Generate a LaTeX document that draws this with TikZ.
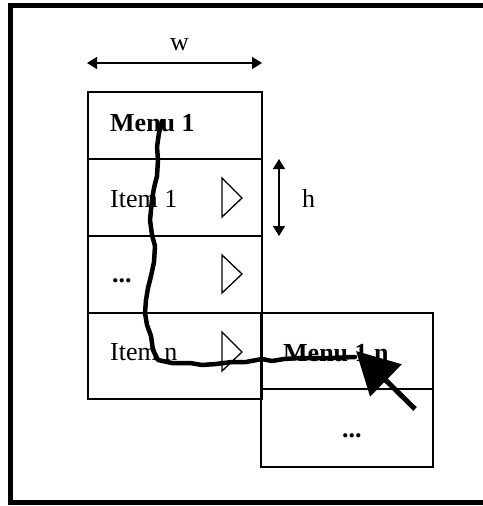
\documentclass[tikz,border=0pt]{standalone}
\usepackage{fontspec}
\setmainfont{Liberation Serif}
\usetikzlibrary{arrows.meta}
\begin{document}
\begin{tikzpicture}[x=1pt,y=-1pt,
  cell/.style={draw, line width=1.3pt, inner sep=0pt, anchor=center},
  lbl/.style={anchor=base west, inner sep=0pt, font=\fontsize{26}{30}\selectfont},
  blbl/.style={lbl, font=\fontsize{26}{30}\selectfont\bfseries},
  dim/.style={line width=1.3pt, {Triangle[length=10pt,width=12pt]}-{Triangle[length=10pt,width=12pt]}},
  tri/.style={draw, line width=1.3pt, fill=white},
  trail/.style={line width=4.5pt, line join=round, line cap=round},
  pointer/.style={line width=5pt, -{Triangle[length=42pt,width=44pt]}}]
\useasboundingbox (0,0) rectangle (482,506);
\fill[white] (0,0) rectangle (482,506);
% outer frame (right side runs off the page)
\draw[line width=5pt] (495,5.5) -- (10.5,5.5) -- (10.5,502.5) -- (495,502.5);

% width dimension
\coordinate (wl) at (87,63);
\coordinate (wr) at (262,63);
\draw[dim] (wl) -- (wr);
\node[lbl] (wlab) at (170,50) {w};

% first menu column
\node[cell, minimum width=174pt, minimum height=67pt] (m1) at (175,125.5) {};
\node[cell, minimum width=174pt, minimum height=77pt] (i1) at (175,197.5) {};
\node[cell, minimum width=174pt, minimum height=77pt] (i2) at (175,274.5) {};
\node[cell, minimum width=174pt, minimum height=86pt] (in) at (175,356) {};

% submenu column
\node[cell, minimum width=172pt, minimum height=76pt] (s1) at (347,351) {};
\node[cell, minimum width=172pt, minimum height=78pt] (s2) at (347,428) {};

% height dimension
\coordinate (ht) at (279,159);
\coordinate (hb) at (279,236);
\draw[dim] (ht) -- (hb);
\node[lbl] (hlab) at (302,207) {h};

% labels
\node[blbl] (t1) at (110,131) {Menu 1};
\node[lbl]  (t2) at (110,207) {Item 1};
\node[blbl] (t3) at (112,282) {...};
\node[lbl]  (t4) at (110,360) {Item n};
\node[blbl] (t5) at (283,361) {Menu 1 n};
\node[blbl] (t6) at (342,437) {...};

% submenu markers
\draw[tri] (222,178) -- (242,198) -- (222,217) -- cycle;
\draw[tri] (222,255) -- (242,274) -- (222,293) -- cycle;
\draw[tri] (222,332) -- (242,352) -- (222,371) -- cycle;

% hand-drawn mouse trail
\draw[trail] (162,121) -- (159,133) -- (157,147) -- (158,160) -- (157,176) -- (154,188)
  -- (152,200) -- (150,220) -- (152,235) -- (155,246) -- (154,262) -- (151,276)
  -- (148,288) -- (146,300) -- (145,313) -- (147,325) -- (151,336) -- (153,350)
  -- (158,360) -- (172,363) -- (190,363) -- (202,365) -- (216,364) -- (232,362)
  -- (246,362) -- (262,359) -- (272,361) -- (284,359) -- (300,358) -- (330,358) -- (355,357);

% pointer arrow
\coordinate (ptail) at (415,409);
\coordinate (ptip) at (356,351);
\draw[pointer] (ptail) -- (ptip);
\end{tikzpicture}
\end{document}
